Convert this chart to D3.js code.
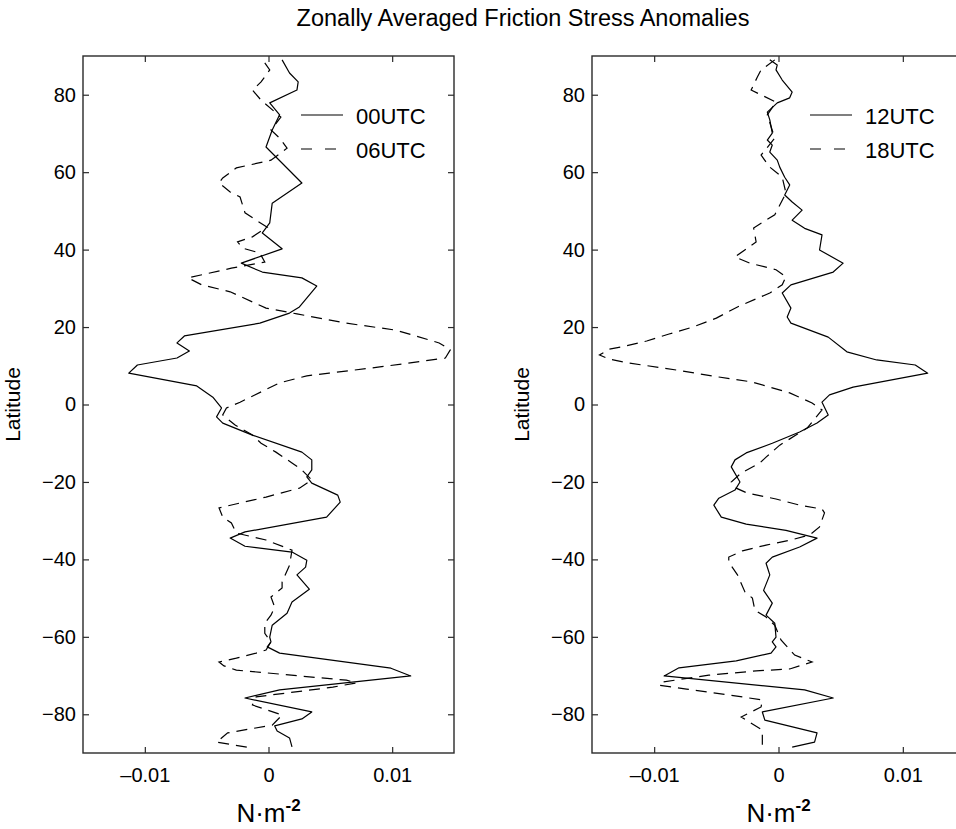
<!DOCTYPE html>
<html>
<head>
<meta charset="utf-8">
<script src="https://cdn.jsdelivr.net/npm/d3@7"></script>
<style>
  html, body { margin: 0; padding: 0; background: #fff; }
  svg { display: block; font-family: 'Liberation Sans', Arial, Helvetica, sans-serif; }
</style>
</head>
<body>
<svg id="chart" width="956" height="829"></svg>
<script>
// ---------------- DATA ----------------
const chartTitle = "Zonally Averaged Friction Stress Anomalies";
const latTicks = [-80, -60, -40, -20, 0, 20, 40, 60, 80];
const stressTicks = [-0.01, 0, 0.01];
const stressTickLabels = ["\u20130.01", "0", "0.01"];
const latDomain = [-90, 90];
const stressDomain = [-0.015, 0.015];

// 00UTC (solid, left panel)
const lat00 = [89, 85.6, 83.3, 81.2, 77.9, 74.8, 70.9, 66.5, 57.2, 52, 46.9, 44.3, 40.2, 36.5, 34.2, 32.7, 30.6, 25.2, 23.6, 21.0, 17.7, 15.9, 13.8, 12.0, 10.2, 8.1, 4.8, 1.9, -0.9, -3.2, -4.8, -7.9, -12.3, -14.3, -16.9, -18.7, -20.3, -23.4, -25.2, -29.1, -32.9, -34.5, -36.6, -38.1, -40.2, -42.0, -44.0, -47.7, -51.0, -53.9, -57.0, -60.1, -61.3, -62.6, -64.2, -68.1, -70.1, -73.7, -75.8, -79.4, -81.2, -83.0, -84.3, -86.1, -88.4];
const val00 = [0.0011, 0.0017, 0.0024, 0.0023, 0.0001, 0.0009, 0.0003, -0.0002, 0.0027, 0.0003, 0.0001, -0.0005, 0.0011, -0.0022, -0.0005, 0.0027, 0.0039, 0.0025, 0.0017, -0.0007, -0.0068, -0.0074, -0.0064, -0.0074, -0.0106, -0.0113, -0.0058, -0.0045, -0.0038, -0.0042, -0.0037, -0.0013, 0.0027, 0.0035, 0.0035, 0.0031, 0.0035, 0.0056, 0.0058, 0.0047, -0.0019, -0.0031, -0.0019, 0.0019, 0.0031, 0.0030, 0.0023, 0.0033, 0.0019, 0.0015, 0.0003, 0.0001, 0.0002, -0.0001, 0.0009, 0.0099, 0.0115, 0.0009, -0.0019, 0.0035, 0.0027, 0.0005, 0.0007, 0.0017, 0.0019];

// 06UTC (dashed, left panel)
const lat06 = [88.2, 86.4, 83.3, 81.2, 78.6, 74.2, 70.9, 68.8, 66.2, 63.1, 61.1, 58.5, 57.2, 54.9, 53.6, 49.5, 47.6, 45.8, 43.3, 42.0, 40.4, 39.1, 36.8, 35.2, 32.7, 30.9, 29.1, 24.9, 23.4, 21.0, 19.2, 15.9, 14.1, 12.0, 11.5, 9.7, 8.1, 7.4, 5.6, 0.6, -0.9, -2.7, -5.3, -7.9, -10.0, -12.3, -15.1, -16.9, -19.5, -21.6, -23.9, -26.7, -29.1, -30.6, -33.2, -35.0, -37.6, -41.5, -45.8, -47.4, -49.7, -52.3, -54.4, -56.5, -59.1, -61.3, -63.4, -64.2, -65.5, -66.5, -67.5, -68.6, -71.2, -71.9, -73.0, -74.5, -75.5, -77.6, -80.2, -82.8, -84.8, -87.2, -88.5];
const val06 = [-0.0003, 0.0001, -0.0006, -0.0013, -0.0006, 0.0010, 0.0002, 0.0009, 0.0015, 0.0002, -0.0026, -0.0037, -0.0040, -0.0031, -0.0023, -0.0019, -0.0010, -0.0001, -0.0013, -0.0025, -0.0021, -0.0007, -0.0003, -0.0030, -0.0065, -0.0054, -0.0031, -0.0002, 0.0023, 0.0063, 0.0103, 0.0138, 0.0147, 0.0143, 0.0132, 0.0090, 0.0049, 0.0031, 0.0009, -0.0023, -0.0034, -0.0037, -0.0027, -0.0013, -0.0006, 0.0006, 0.0019, 0.0027, 0.0035, 0.0025, -0.0002, -0.0040, -0.0037, -0.0030, -0.0026, -0.0002, 0.0019, 0.0017, 0.0011, 0.0011, 0.0002, 0.0005, 0.0002, -0.0003, -0.0003, 0.0002, -0.0002, -0.0010, -0.0026, -0.0040, -0.0036, -0.0026, 0.0063, 0.0071, 0.0052, 0.0015, -0.0010, -0.0013, 0.0011, 0.0003, -0.0033, -0.0042, -0.0017];

// 12UTC (solid, right panel)
const lat12 = [89, 87.7, 86.4, 83.8, 80.7, 79.2, 77.9, 75.5, 73.5, 70.1, 68.3, 67, 65.2, 63.1, 61.3, 58.7, 56.7, 54.1, 52.3, 50.2, 47.6, 45.5, 43.8, 39.9, 36.5, 34.2, 30.9, 28.8, 24.9, 22.6, 21.0, 17.4, 13.6, 11.5, 10.2, 8.1, 4.5, 2.5, 0.6, -2.7, -4.8, -7.1, -10, -12.5, -14.3, -16.1, -20, -22.1, -24.2, -26, -29.1, -30.9, -32.5, -34.5, -36.8, -39.4, -41, -44, -48, -51.3, -54.4, -56.5, -60.1, -61.3, -62.6, -64.2, -66.2, -68, -70.1, -73.7, -75.8, -79.4, -81.5, -84.8, -87.2, -88.5];
const val12 = [-0.0007, -0.0001, -0.0002, 0.0003, 0.0011, 0.0009, -0.0001, -0.0009, -0.0007, -0.0005, -0.0009, -0.0005, -0.0007, -0.0001, 0.0001, 0.0005, 0.0009, 0.0005, 0.0011, 0.0019, 0.0011, 0.0021, 0.0035, 0.0033, 0.0052, 0.0044, 0.0010, 0.0003, 0.0010, 0.0007, 0.0010, 0.0040, 0.0055, 0.0079, 0.0110, 0.0120, 0.0060, 0.0041, 0.0035, 0.0040, 0.0031, 0.0017, -0.0005, -0.0026, -0.0035, -0.0038, -0.0031, -0.0035, -0.0048, -0.0052, -0.0046, -0.0026, 0.0006, 0.0031, 0.0017, -0.0005, -0.0010, -0.0007, -0.0012, -0.0005, -0.0010, -0.0003, -0.0002, -0.0005, -0.0002, -0.0006, -0.0034, -0.0080, -0.0092, 0.0021, 0.0044, -0.0013, -0.0011, 0.0031, 0.0029, 0.0011];

// 18UTC (dashed, right panel)
const lat18 = [89, 86.4, 84.6, 81.2, 78.1, 74.8, 68.8, 64.4, 61.3, 58.7, 54.6, 49, 45.6, 42, 38.1, 36.5, 34.8, 33, 30.9, 28.8, 25.2, 22.3, 20, 18.2, 16.4, 15.1, 14.3, 12.8, 11.7, 10.7, 8.9, 7.1, 5.8, 3, 0.4, -1.4, -6.1, -10.5, -13.6, -15.1, -17.7, -20, -21.6, -22.9, -24.4, -26, -27, -28, -31.6, -33.7, -35, -36.3, -37.8, -39.4, -40.7, -44, -48.4, -50, -53.1, -54.9, -57, -60.8, -64.7, -66.5, -68.3, -68.8, -69.9, -71.7, -72.5, -73.5, -75, -76.3, -78.1, -80.7, -84.1, -87.9];
const val18 = [-0.0003, -0.0014, -0.0017, -0.0022, -0.0002, -0.0009, -0.0003, -0.0014, -0.0007, 0.0003, 0.0006, -0.0003, -0.0020, -0.0018, -0.0035, -0.0023, -0.0002, 0.0006, 0.0003, -0.0007, -0.0033, -0.0050, -0.0069, -0.0088, -0.0106, -0.0123, -0.0136, -0.0144, -0.0136, -0.0120, -0.0082, -0.0048, -0.0021, 0.0009, 0.0027, 0.0035, 0.0023, 0.0001, -0.0010, -0.0015, -0.0030, -0.0038, -0.0034, -0.0025, -0.0002, 0.0017, 0.0035, 0.0037, 0.0033, 0.0025, 0.0010, -0.0010, -0.0029, -0.0040, -0.0040, -0.0033, -0.0027, -0.0021, -0.0019, -0.0010, -0.0003, 0.0002, 0.0013, 0.0027, 0.0009, -0.0018, -0.0056, -0.0094, -0.0096, -0.0074, -0.0040, -0.0013, -0.0014, -0.0030, -0.0013, -0.0013];

const panels = [
  { left: 83, right: 454, solid: { name: "00UTC", lat: lat00, val: val00 }, dashed: { name: "06UTC", lat: lat06, val: val06 } },
  { left: 592, right: 965, solid: { name: "12UTC", lat: lat12, val: val12 }, dashed: { name: "18UTC", lat: lat18, val: val18 } }
];

// ---------------- DRAW ----------------
const svg = d3.select("#chart");
const plotTop = 56, plotBottom = 753;
const yScale = d3.scaleLinear().domain(latDomain).range([plotBottom, plotTop]);
const ink = "#000";
const axisInk = "#2a2a2a";

svg.append("text")
  .attr("x", 523).attr("y", 26)
  .attr("text-anchor", "middle")
  .attr("font-size", 23.5)
  .attr("fill", ink)
  .text(chartTitle);

panels.forEach((p, i) => {
  const xScale = d3.scaleLinear().domain(stressDomain).range([p.left, p.right]);
  const g = svg.append("g");
  const clipId = "clip" + i;
  svg.append("defs").append("clipPath").attr("id", clipId)
    .append("rect").attr("x", p.left).attr("y", plotTop).attr("width", p.right - p.left).attr("height", plotBottom - plotTop);

  const line = d3.line().x(d => xScale(d[1])).y(d => yScale(d[0]));
  const solidPts = p.solid.lat.map((l, k) => [l, p.solid.val[k]]);
  const dashedPts = p.dashed.lat.map((l, k) => [l, p.dashed.val[k]]);

  const lines = g.append("g").attr("clip-path", `url(#${clipId})`);
  lines.append("path").attr("d", line(solidPts))
    .attr("fill", "none").attr("stroke", ink).attr("stroke-width", 1.2).attr("stroke-linejoin", "round");
  lines.append("path").attr("d", line(dashedPts))
    .attr("fill", "none").attr("stroke", ink).attr("stroke-width", 1.2).attr("stroke-dasharray", "11,7");

  // axes
  const axL = g.append("g").attr("transform", `translate(${p.left},0)`)
    .call(d3.axisLeft(yScale).tickValues(latTicks).tickSize(-6).tickSizeOuter(0).tickPadding(7).tickFormat(d3.format("d")));
  const axR = g.append("g").attr("transform", `translate(${p.right},0)`)
    .call(d3.axisRight(yScale).tickValues(latTicks).tickSize(-6).tickSizeOuter(0).tickFormat(""));
  const axB = g.append("g").attr("transform", `translate(0,${plotBottom})`)
    .call(d3.axisBottom(xScale).tickValues(stressTicks).tickSize(-6).tickSizeOuter(0).tickPadding(15)
      .tickFormat((d, k) => stressTickLabels[k]));
  const axT = g.append("g").attr("transform", `translate(0,${plotTop})`)
    .call(d3.axisTop(xScale).tickValues(stressTicks).tickSize(-6).tickSizeOuter(0).tickFormat(""));
  [axL, axR, axB, axT].forEach(a => {
    a.selectAll("path.domain").remove();
    a.selectAll("line").attr("stroke", axisInk).attr("stroke-width", 1.2);
    a.selectAll("text").attr("font-size", 20).attr("fill", ink)
      .attr("font-family", "'Liberation Sans', Arial, Helvetica, sans-serif");
  });

  g.append("rect").attr("x", p.left).attr("y", plotTop)
    .attr("width", p.right - p.left).attr("height", plotBottom - plotTop)
    .attr("fill", "none").attr("stroke", axisInk).attr("stroke-width", 1.4);

  // y label
  g.append("text")
    .attr("transform", `translate(${p.left - 63},${(plotTop + plotBottom) / 2}) rotate(-90)`)
    .attr("text-anchor", "middle")
    .attr("font-size", 21).attr("fill", ink)
    .text("Latitude");

  // x label
  const cx = xScale(0);
  const xl = g.append("text").attr("x", cx).attr("y", 822)
    .attr("text-anchor", "middle").attr("font-size", 26).attr("fill", ink);
  xl.append("tspan").text("N\u00B7m");
  xl.append("tspan").attr("dy", -11).attr("font-size", 17).attr("font-weight", "bold").text("-2");

  // legend
  const lx0 = i === 0 ? 301 : 810;
  const lx1 = lx0 + 42;
  const ly = [115, 149];
  g.append("line").attr("x1", lx0).attr("x2", lx1).attr("y1", ly[0]).attr("y2", ly[0])
    .attr("stroke", ink).attr("stroke-width", 1.2);
  g.append("line").attr("x1", lx0).attr("x2", lx1).attr("y1", ly[1]).attr("y2", ly[1])
    .attr("stroke", ink).attr("stroke-width", 1.2).attr("stroke-dasharray", "11,13");
  g.append("text").attr("x", lx1 + 13).attr("y", ly[0] + 9).attr("font-size", 22).attr("fill", ink).text(p.solid.name);
  g.append("text").attr("x", lx1 + 13).attr("y", ly[1] + 9).attr("font-size", 22).attr("fill", ink).text(p.dashed.name);
});
</script>
</body>
</html>
